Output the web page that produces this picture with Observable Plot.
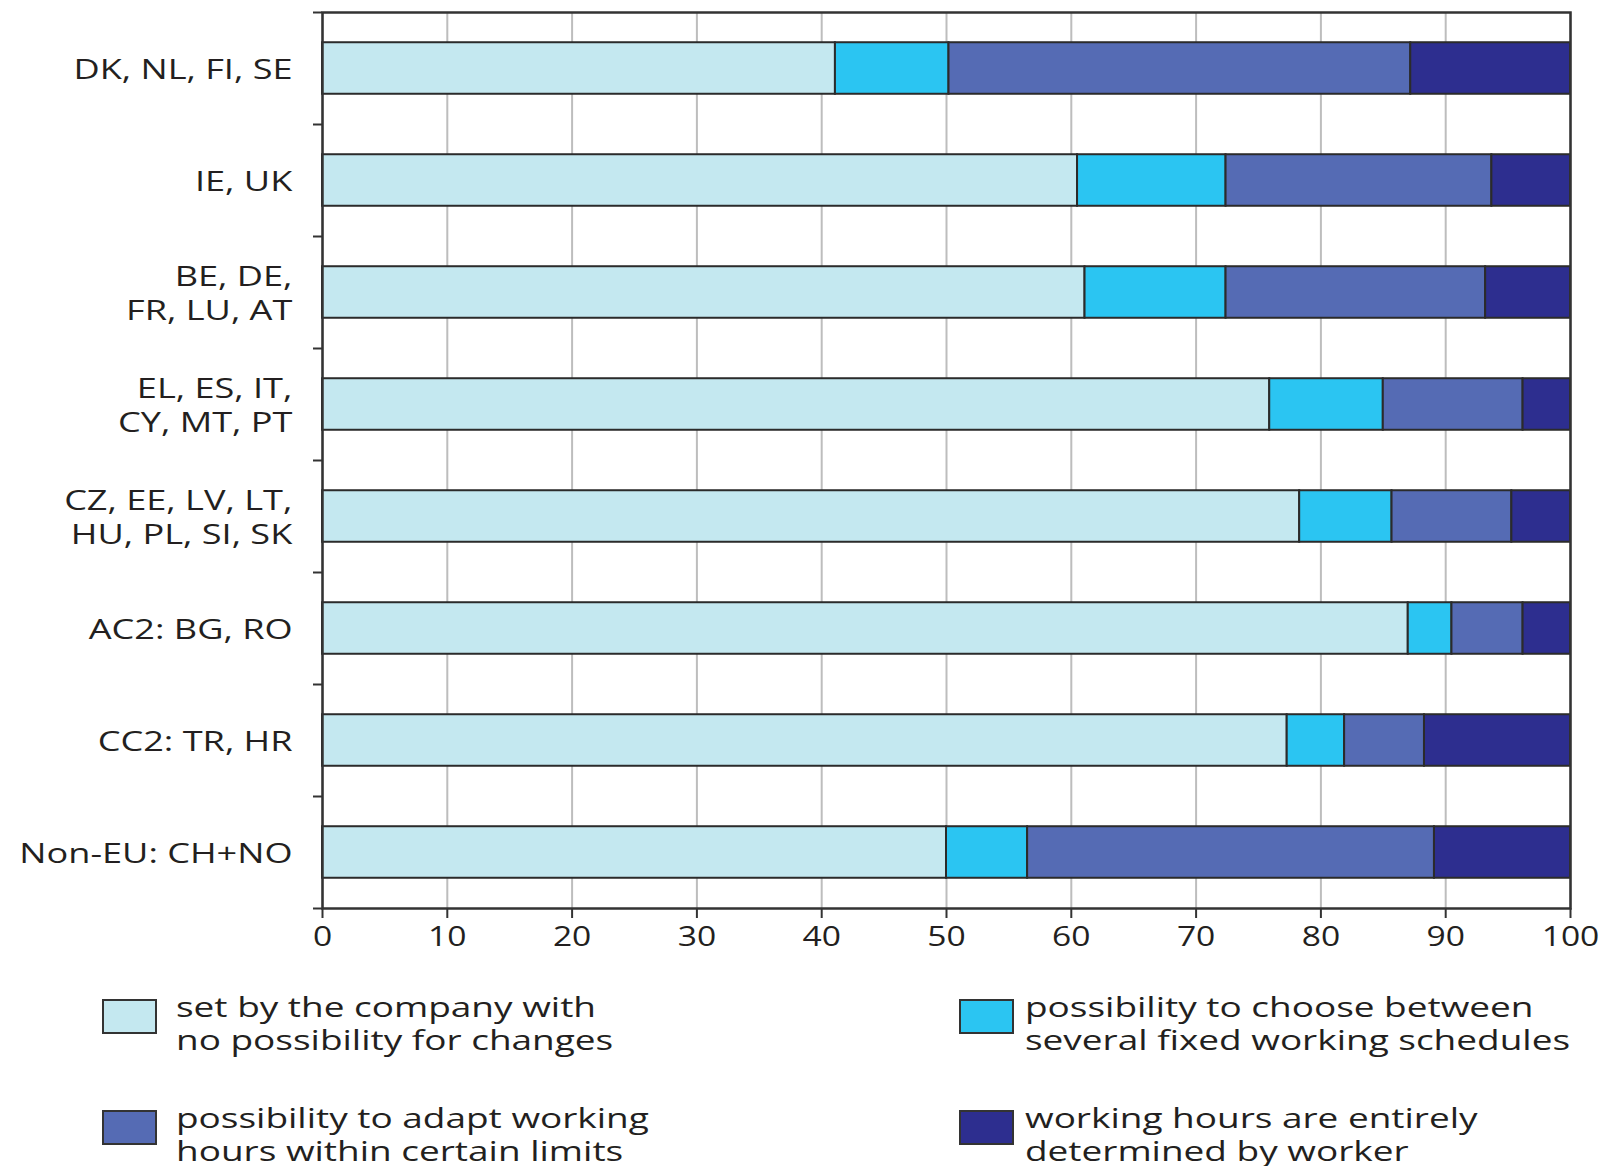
<!DOCTYPE html>
<html>
<head>
<meta charset="utf-8">
<script src="https://cdn.jsdelivr.net/npm/d3@7"></script>
<script src="https://cdn.jsdelivr.net/npm/@observablehq/plot@0.6"></script>
<style>
  html, body { margin: 0; padding: 0; background: #fff; }
  body { width: 1599px; height: 1166px; overflow: hidden; position: relative; font-family: "Open Sans", sans-serif; color: #231f20; }
  #legend { position: absolute; left: 0; top: 0; width: 1599px; }
  .item { position: absolute; }
  .sw { position: absolute; left: 0; top: 0; width: 55px; height: 35px; border: 2.5px solid #333; box-sizing: border-box; }
  .lab { position: absolute; top: -9px; font-size: 28px; line-height: 33px; white-space: nowrap; transform: scaleX(1.32); transform-origin: 0 0; }
</style>
</head>
<body>
<div id="chart"></div>
<div id="legend"></div>
<script>
const categories = [
  "DK, NL, FI, SE",
  "IE, UK",
  "BE, DE,\nFR, LU, AT",
  "EL, ES, IT,\nCY, MT, PT",
  "CZ, EE, LV, LT,\nHU, PL, SI, SK",
  "AC2: BG, RO",
  "CC2: TR, HR",
  "Non-EU: CH+NO"
];
const seriesNames = [
  "set by the company with\nno possibility for changes",
  "possibility to choose between\nseveral fixed working schedules",
  "possibility to adapt working\nhours within certain limits",
  "working hours are entirely\ndetermined by worker"
];
const seriesColors = ["#c4e8f0", "#2bc5f2", "#556bb4", "#2d2e8f"];
const setByCompany    = [41.1, 60.5, 61.1, 75.9, 78.3, 87.0, 77.3, 50.0];
const chooseSchedules = [ 9.1, 11.9, 11.3,  9.1,  7.4,  3.5,  4.6,  6.5];
const adaptHours      = [37.0, 21.3, 20.8, 11.2,  9.6,  5.7,  6.4, 32.6];
const byWorker        = [12.8,  6.3,  6.8,  3.8,  4.7,  3.8, 11.7, 10.9];
const xTicks = [0, 10, 20, 30, 40, 50, 60, 70, 80, 90, 100];

const seriesValues = [setByCompany, chooseSchedules, adaptHours, byWorker];
const rows = [];
categories.forEach((c, i) => {
  let acc = 0;
  seriesValues.forEach((vals, s) => {
    rows.push({i, s, x1: acc, x2: acc + vals[i]});
    acc += vals[i];
  });
});
const half = 0.23;
const centers = categories.map((_, i) => i);
const bounds = d3.range(-0.5, categories.length, 1);

const chart = Plot.plot({
  width: 1599,
  height: 962,
  marginTop: 12,
  marginBottom: 54,
  marginLeft: 322,
  marginRight: 29,
  style: {fontFamily: "'Open Sans', sans-serif", fontSize: "28px", color: "#231f20", background: "#fff"},
  x: {domain: [0, 100]},
  y: {domain: [-0.5, categories.length - 0.5], reverse: true},
  color: {domain: d3.range(4), range: seriesColors},
  marks: [
    Plot.gridX(xTicks, {stroke: "#bdbdbd", strokeOpacity: 1, strokeWidth: 2}),
    Plot.rect(rows, {x1: "x1", x2: "x2", y1: d => d.i - half, y2: d => d.i + half, fill: d => d.s, stroke: "#2b2b2b", strokeWidth: 2}),
    Plot.axisX({ticks: xTicks, tickSize: 10, tickPadding: 8, stroke: "#333", strokeWidth: 2, fontSize: 28, ariaLabel: "x-axis"}),
    Plot.axisY({ticks: centers, tickSize: 0, tickPadding: 30, tickFormat: i => categories[i], fontSize: 28, lineHeight: 1.2}),
    Plot.axisY({ticks: bounds, tickSize: 9, tickFormat: () => "", stroke: "#333", strokeWidth: 2}),
    Plot.frame({stroke: "#333", strokeWidth: 2.5})
  ]
});
document.getElementById("chart").appendChild(chart);

// widen glyphs horizontally, as in the reference typeface
chart.querySelectorAll("text").forEach(el => {
  if (!el.textContent.trim()) return;
  const isX = /^\d+$/.test(el.textContent.trim());
  const sx = isX ? 1.2 : 1.29;
  const b = el.getBBox();
  const anchor = getComputedStyle(el).textAnchor;
  const ax = anchor === "end" ? b.x + b.width : anchor === "middle" ? b.x + b.width / 2 : b.x;
  const t = el.getAttribute("transform") || "";
  el.setAttribute("transform", `${t} translate(${ax},0) scale(${sx},1) translate(${-ax},0)`);
});

const legend = document.getElementById("legend");
const pos = [[102, 999, 74], [959, 999, 66], [102, 1110, 74], [959, 1110, 66]];
seriesNames.forEach((name, s) => {
  const item = document.createElement("div");
  item.className = "item";
  item.style.left = pos[s][0] + "px";
  item.style.top = pos[s][1] + "px";
  const sw = document.createElement("div");
  sw.className = "sw";
  sw.style.background = seriesColors[s];
  const lab = document.createElement("div");
  lab.className = "lab";
  lab.style.left = pos[s][2] + "px";
  lab.innerHTML = name.replace("\n", "<br>");
  item.appendChild(sw);
  item.appendChild(lab);
  legend.appendChild(item);
});
</script>
</body>
</html>
